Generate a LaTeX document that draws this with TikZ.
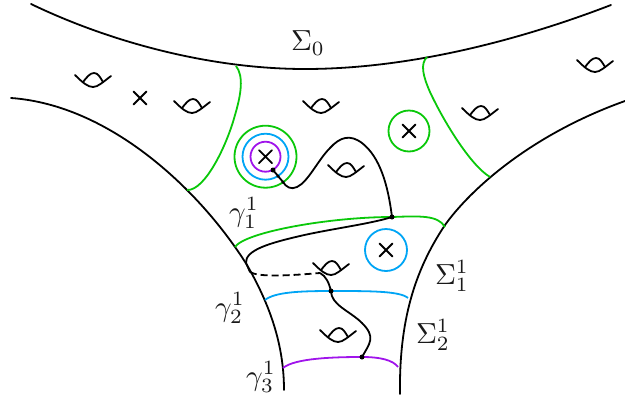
\documentclass[tikz,border=0pt]{standalone}
\usetikzlibrary{calc}
\definecolor{gr}{RGB}{10,200,10}
\definecolor{bl}{RGB}{0,165,245}
\definecolor{pu}{RGB}{160,20,235}
\tikzset{
  px/.style={x=1pt,y=-1pt},
  edge/.style={black,line width=1.8pt,line cap=round},
  gcurve/.style={gr,line width=1.8pt},
  bcurve/.style={bl,line width=1.8pt},
  pcurve/.style={pu,line width=1.8pt},
  lab/.style={inner sep=0pt,scale=2.9,text=black!90},
  handle/.pic={
    \draw[edge] (-18,-12) .. controls (-10,-4) and (-5,0) .. (0,0) .. controls (5,0) and (10,-5) .. (18,-11);
    \draw[edge] (-10,-5) .. controls (-6,-10) and (-3,-14) .. (1,-14) .. controls (5,-14) and (7,-10) .. (10,-5);
  },
  crossm/.pic={
    \draw[edge] (-6.5,-6.5) -- (6.5,6.5) (-6.5,6.5) -- (6.5,-6.5);
  },
  dotm/.style={circle,fill=black,inner sep=0pt,minimum size=5pt}
}
\begin{document}
\begin{tikzpicture}[px]
\useasboundingbox (0,0) rectangle (625,397);
% boundaries
\draw[edge] (31,4) .. controls (110,42) and (210,69) .. (305,69) .. controls (410,69) and (520,40) .. (611,5);
\draw[edge] (11,98) .. controls (110,105) and (200,190) .. (247,265) .. controls (270,305) and (284,345) .. (284,390);
\draw[edge] (625,101) .. controls (530,135) and (470,190) .. (445,225) .. controls (415,270) and (399,320) .. (400,394);
% green
\draw[gcurve] (236,66) .. controls (244,76) and (241,95) .. (235,115) .. controls (227,145) and (205,191) .. (187,190);
\draw[gcurve] (427,57) .. controls (420,64) and (423,76) .. (430,92) .. controls (443,120) and (470,165) .. (490,177);
\draw[gcurve] (235,247) .. controls (245,232) and (330,217) .. (392,217) .. controls (420,216) and (438,215) .. (445,227);
\draw[bcurve] (265,300) .. controls (275,292) and (300,291) .. (332,291) .. controls (370,291) and (400,291) .. (408,298);
\draw[pcurve] (283,368) .. controls (295,358) and (335,357) .. (362,357) .. controls (380,357) and (393,360) .. (398,367);
% circles
\node[draw=gr,line width=1.8pt,circle,minimum size=62pt,inner sep=0pt] (cg) at (265.5,156.7) {};
\node[draw=bl,line width=1.8pt,circle,minimum size=46pt,inner sep=0pt] (cb) at (265.5,156.7) {};
\node[draw=pu,line width=1.8pt,circle,minimum size=30pt,inner sep=0pt] (cp) at (265.5,156.7) {};
\node[draw=gr,line width=1.8pt,circle,minimum size=41pt,inner sep=0pt] (cr) at (409,131) {};
\node[draw=bl,line width=1.8pt,circle,minimum size=42pt,inner sep=0pt] (cl) at (386,250) {};
% crosses
\pic at (140,98) {crossm};
\pic at (265.5,156.7) {crossm};
\pic at (409,131) {crossm};
\pic at (386,250) {crossm};
% handles
\pic at (93,87) {handle};
\pic at (192,113) {handle};
\pic at (321,113) {handle};
\pic at (346,177) {handle};
\pic at (331,275) {handle};
\pic at (338,342) {handle};
\pic at (480,120) {handle};
\pic at (595,72) {handle};
% points
\node[dotm] (d1) at (273,170) {};
\node[dotm,minimum size=3.5pt] (d2) at (278,176) {};
\node[dotm,minimum size=3.5pt] (d3) at (283,182) {};
\node[dotm] (d4) at (392,217) {};
\node[dotm] (d5) at (331,291) {};
\node[dotm] (d6) at (362,357) {};
\coordinate (e1) at (250,272);
\coordinate (e2) at (320,273);
% loop
\draw[edge] (d1.center) -- (d2.center) -- (d3.center) .. controls (286,187) and (291,190) .. (297,187) .. controls (308,182) and (318,160) .. (330,148) .. controls (340,137) and (350,134) .. (362,143) .. controls (380,157) and (388,185) .. (d4.center);
\draw[edge] (d4.center) .. controls (370,224) and (330,229) .. (300,236) .. controls (270,243) and (245,250) .. (246,263) -- (e1);
\draw[edge,dash pattern=on 7pt off 4pt,line cap=butt] (e1) .. controls (258,277) and (285,276) .. (e2);
\draw[edge] (e2) .. controls (326,276) and (329,283) .. (d5.center) .. controls (331,305) and (350,311) .. (362,323) .. controls (376,337) and (370,343) .. (d6.center);
% labels
\node[lab] (s0) at (308,43) {$\Sigma_0$};
\node[lab] (g1) at (244,213) {$\gamma_1^1$};
\node[lab] (g2) at (230,308) {$\gamma_2^1$};
\node[lab] (g3) at (261,377) {$\gamma_3^1$};
\node[lab] (s1) at (452,276) {$\Sigma_1^1$};
\node[lab] (s2) at (433,335) {$\Sigma_2^1$};
\end{tikzpicture}
\end{document}
